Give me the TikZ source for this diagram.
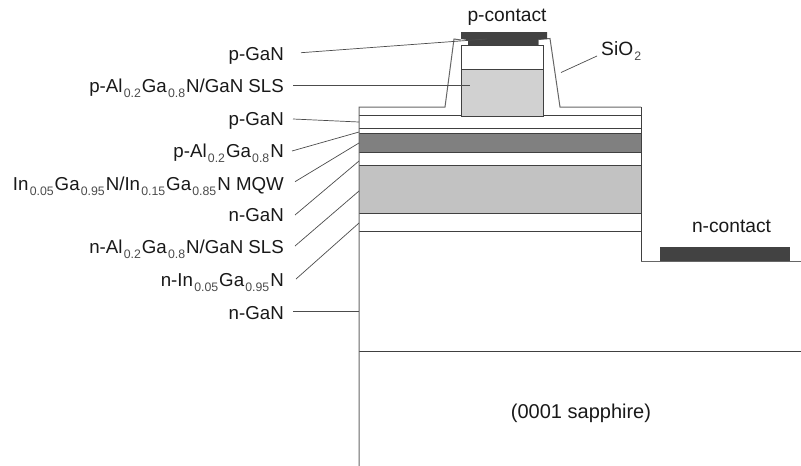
\documentclass[tikz,border=0pt]{standalone}
\usepackage{fontspec}
\setmainfont{Liberation Sans}
\newcommand{\sbs}[1]{\kern1.2pt\raisebox{-5pt}{\fontsize{12.3}{12}\selectfont\color{black!70}#1}\kern1pt}
\tikzset{
  lbl/.style={anchor=base east,inner sep=0pt,text=black!90,font=\fontsize{18.7}{20}\selectfont},
  free/.style={anchor=base,inner sep=0pt,text=black!90,font=\fontsize{19.2}{21}\selectfont},
  ln/.style={draw=black!75,line width=0.9pt},
  lead/.style={draw=black!70,line width=0.7pt},
  sio/.style={draw=black!60,line width=1pt}
}
\definecolor{darkm}{gray}{0.26}
\definecolor{midg}{gray}{0.5}
\definecolor{lightg}{gray}{0.76}
\definecolor{slsg}{gray}{0.82}
\begin{document}
\begin{tikzpicture}[x=1pt,y=-1pt]
\useasboundingbox (0,0) rectangle (801,466);
\fill[white] (0,0) rectangle (801,466);
% layers
\fill[midg] (359,133) rectangle (641,152);
\fill[lightg] (359,165) rectangle (641,213.5);
\draw[ln] (359,115)--(641,115);
\draw[ln] (359,128.5)--(641,128.5);
\draw[ln] (359,133)--(641,133);
\draw[ln] (359,152)--(641,152);
\draw[ln] (359,165)--(641,165);
\draw[ln] (359,213.5)--(641,213.5);
\draw[ln] (359,231)--(641,231);
\draw[ln] (359,351)--(801,351);
% outer contour
\draw[sio] (359,466)--(359,107)--(445,107)--(454,39)--(461,40);
\draw[sio] (538,45)--(538,39.5)--(550,38.5)--(560,107)--(641,107);
\draw[ln] (641,107)--(641,261);
\draw[sio] (641,261)--(801,261);
% mesa
\fill[slsg] (461,69) rectangle (543.5,116);
\draw[ln] (461,45) rectangle (543.5,116);
\draw[ln] (461,69)--(543.5,69);
% p-contact
\fill[darkm] (461,32) -- (547,32) -- (547,39) -- (538,39.5) -- (538,45) -- (468,45) -- (468,40) -- (461,39) -- cycle;
% n-contact
\fill[darkm] (660,247) rectangle (790,261);
% labels
\node[free] (pc) at (507,21.7) {p-contact};
\node[free] (nc) at (731.5,232) {n-contact};
\node[free,font=\fontsize{20}{22}\selectfont] (sa) at (581,418) {(0001 sapphire)};
\node[free,anchor=base west] (si) at (601,55) {SiO\sbs{2}};
\node[lbl] (l1) at (284,60.5) {p-GaN};
\node[lbl] (l2) at (284,92) {p-Al\sbs{0.2}Ga\sbs{0.8}N/GaN SLS};
\node[lbl] (l3) at (284,125.2) {p-GaN};
\node[lbl] (l4) at (284,157.7) {p-Al\sbs{0.2}Ga\sbs{0.8}N};
\node[lbl] (l5) at (284,190) {In\sbs{0.05}Ga\sbs{0.95}N/In\sbs{0.15}Ga\sbs{0.85}N MQW};
\node[lbl] (l6) at (284,221.7) {n-GaN};
\node[lbl] (l7) at (284,253) {n-Al\sbs{0.2}Ga\sbs{0.8}N/GaN SLS};
\node[lbl] (l8) at (284,286.7) {n-In\sbs{0.05}Ga\sbs{0.95}N};
\node[lbl] (l9) at (284,319) {n-GaN};
% leader ends
\coordinate (s1) at (301,52.7);  \coordinate (e1) at (487,39);
\coordinate (s2) at (293,85.3);  \coordinate (e2) at (470,85.3);
\coordinate (s3) at (293,119);   \coordinate (e3) at (359,122);
\coordinate (s4) at (292,151);   \coordinate (e4) at (359,132);
\coordinate (s5) at (295,181.7); \coordinate (e5) at (359,143);
\coordinate (s6) at (295,215);   \coordinate (e6) at (359,161);
\coordinate (s7) at (295,246);   \coordinate (e7) at (359,191);
\coordinate (s8) at (296,279);   \coordinate (e8) at (359,223);
\coordinate (s9) at (293,311);   \coordinate (e9) at (359,311);
\coordinate (s10) at (597,56);   \coordinate (e10) at (561,72.5);
\foreach \i in {1,...,10} {\draw[lead] (s\i)--(e\i);}
\end{tikzpicture}
\end{document}
